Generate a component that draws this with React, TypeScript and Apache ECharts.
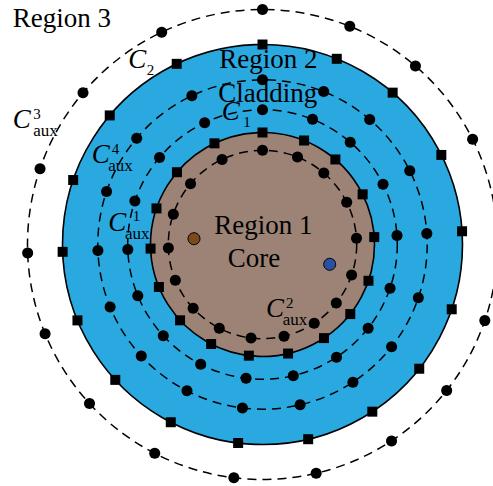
import React, { useEffect, useRef } from "react";
import * as echarts from "echarts";

// Angular positions (degrees, counter-clockwise from +x) of the sampling points, shared by every ring
const pointAngles = [90, 68.2, 49.4, 26.6, 3.8, -18.9, -38.4, -56.7, -76.8, -97, -117.3, -137.4, -157.7, -177.9, 161.2, 139.8, 115.4];
// Dashed auxiliary contours: C_aux^2, C_1, C_aux^4, C_aux^3
const dashedRadii = [94.2, 134.8, 164.7, 235];
// Material boundaries: cladding, core (square markers)
const boundaryRadii = [200, 112];
const boundaryFills = ["#29a9e0", "#9c8375"];
// Source points (x, y) and colours
const sourcePoints = [[-68.5, 5.8], [67.2, -19.8]];
const sourceColors = ["#7a4a1c", "#2a4fa3"];

const regionLabels: [string, number, number][] = [
  ["Region 3", 12.7, 27],
  ["Region 2", 219.3, 68.3],
  ["Cladding", 218.3, 101.7],
  ["Region 1", 214.3, 234.3],
  ["Core", 227.7, 266.7],
];
// [sup, sub, Cx, baseline, supX, subX]
const contourLabels: [string, string, number, number, number, number][] = [
  ["", "2", 128.3, 68.3, 0, 146.7],
  ["3", "aux", 12.7, 128.3, 33.3, 33.3],
  ["4", "aux", 91.7, 163.3, 111.7, 108.3],
  ["1", "aux", 108.3, 230.7, 132.7, 125],
  ["", "1", 221.7, 120, 0, 243.3],
  ["2", "aux", 266, 317.3, 286, 282.7],
];

const FONT = '"Liberation Serif", "Times New Roman", serif';

function txt(text: string, x: number, baseline: number, size: number, italic = false) {
  return {
    type: "text",
    z: 5,
    x,
    y: baseline - 0.3375 * size,
    style: {
      text,
      fontSize: size,
      fontFamily: FONT,
      fontStyle: italic ? "italic" : "normal",
      fill: "#000",
      align: "left",
      verticalAlign: "middle",
    },
  };
}

export default function App() {
  const ref = useRef<HTMLDivElement>(null);
  useEffect(() => {
    if (!ref.current) return;
    const chart = echarts.init(ref.current, undefined, { renderer: "svg" });

    const ringPoints = (radii: number[]) =>
      radii.flatMap((r) =>
        pointAngles.map((a) => [r * Math.cos((a * Math.PI) / 180), r * Math.sin((a * Math.PI) / 180)])
      );

    const graphics: any[] = [];
    regionLabels.forEach(([t, x, b]) => graphics.push(txt(t, x, b, 27)));
    contourLabels.forEach(([sup, sub, cx, b, supX, subX]) => {
      graphics.push(txt("C", cx, b, 27, true));
      if (sup) graphics.push(txt(sup, supX, b - 9.5, 15));
      if (sub === "aux") graphics.push(txt(sub, subX, b + 8.4, 17));
      else graphics.push(txt(sub, subX, b + 6.7, 15));
    });

    chart.setOption({
      animation: false,
      backgroundColor: "#fff",
      grid: { left: 0, right: 0, top: 0, bottom: 0 },
      xAxis: { type: "value", min: -262.5, max: 230.5, show: false },
      yAxis: { type: "value", min: -241.5, max: 244.5, show: false },
      graphic: graphics,
      series: [
        {
          type: "custom",
          z: 1,
          clip: false,
          data: boundaryRadii.map((r) => [0, 0, r]),
          renderItem: (params: any, api: any) => {
            const c = api.coord([0, 0]);
            const e = api.coord([api.value(2), 0]);
            return {
              type: "circle",
              shape: { cx: c[0], cy: c[1], r: e[0] - c[0] },
              style: { fill: boundaryFills[params.dataIndex], stroke: "#000", lineWidth: 1.6 },
            };
          },
        },
        {
          type: "custom",
          z: 10,
          clip: false,
          data: dashedRadii.map((r) => [0, 0, r]),
          renderItem: (params: any, api: any) => {
            const c = api.coord([0, 0]);
            const e = api.coord([api.value(2), 0]);
            return {
              type: "circle",
              shape: { cx: c[0], cy: c[1], r: e[0] - c[0] },
              style: { fill: "none", stroke: "#000", lineWidth: 1.5, lineDash: [9, 6] },
            };
          },
        },
        {
          type: "scatter",
          z: 11,
          symbol: "circle",
          symbolSize: 11,
          itemStyle: { color: "#000", opacity: 1 },
          data: ringPoints(dashedRadii),
        },
        {
          type: "scatter",
          z: 11,
          symbol: "rect",
          symbolSize: 10,
          itemStyle: { color: "#000", opacity: 1 },
          data: ringPoints(boundaryRadii),
        },
        {
          type: "scatter",
          z: 12,
          symbol: "circle",
          symbolSize: 12,
          data: sourcePoints.map((p, i) => ({
            value: p,
            itemStyle: { color: sourceColors[i], borderColor: "#000", borderWidth: 1, opacity: 1 },
          })),
        },
      ],
    });
    return () => chart.dispose();
  }, []);
  return (
    <div
      ref={ref}
      style={{ position: "absolute", left: 0, top: 0, width: 493, height: 486 }}
    />
  );
}
